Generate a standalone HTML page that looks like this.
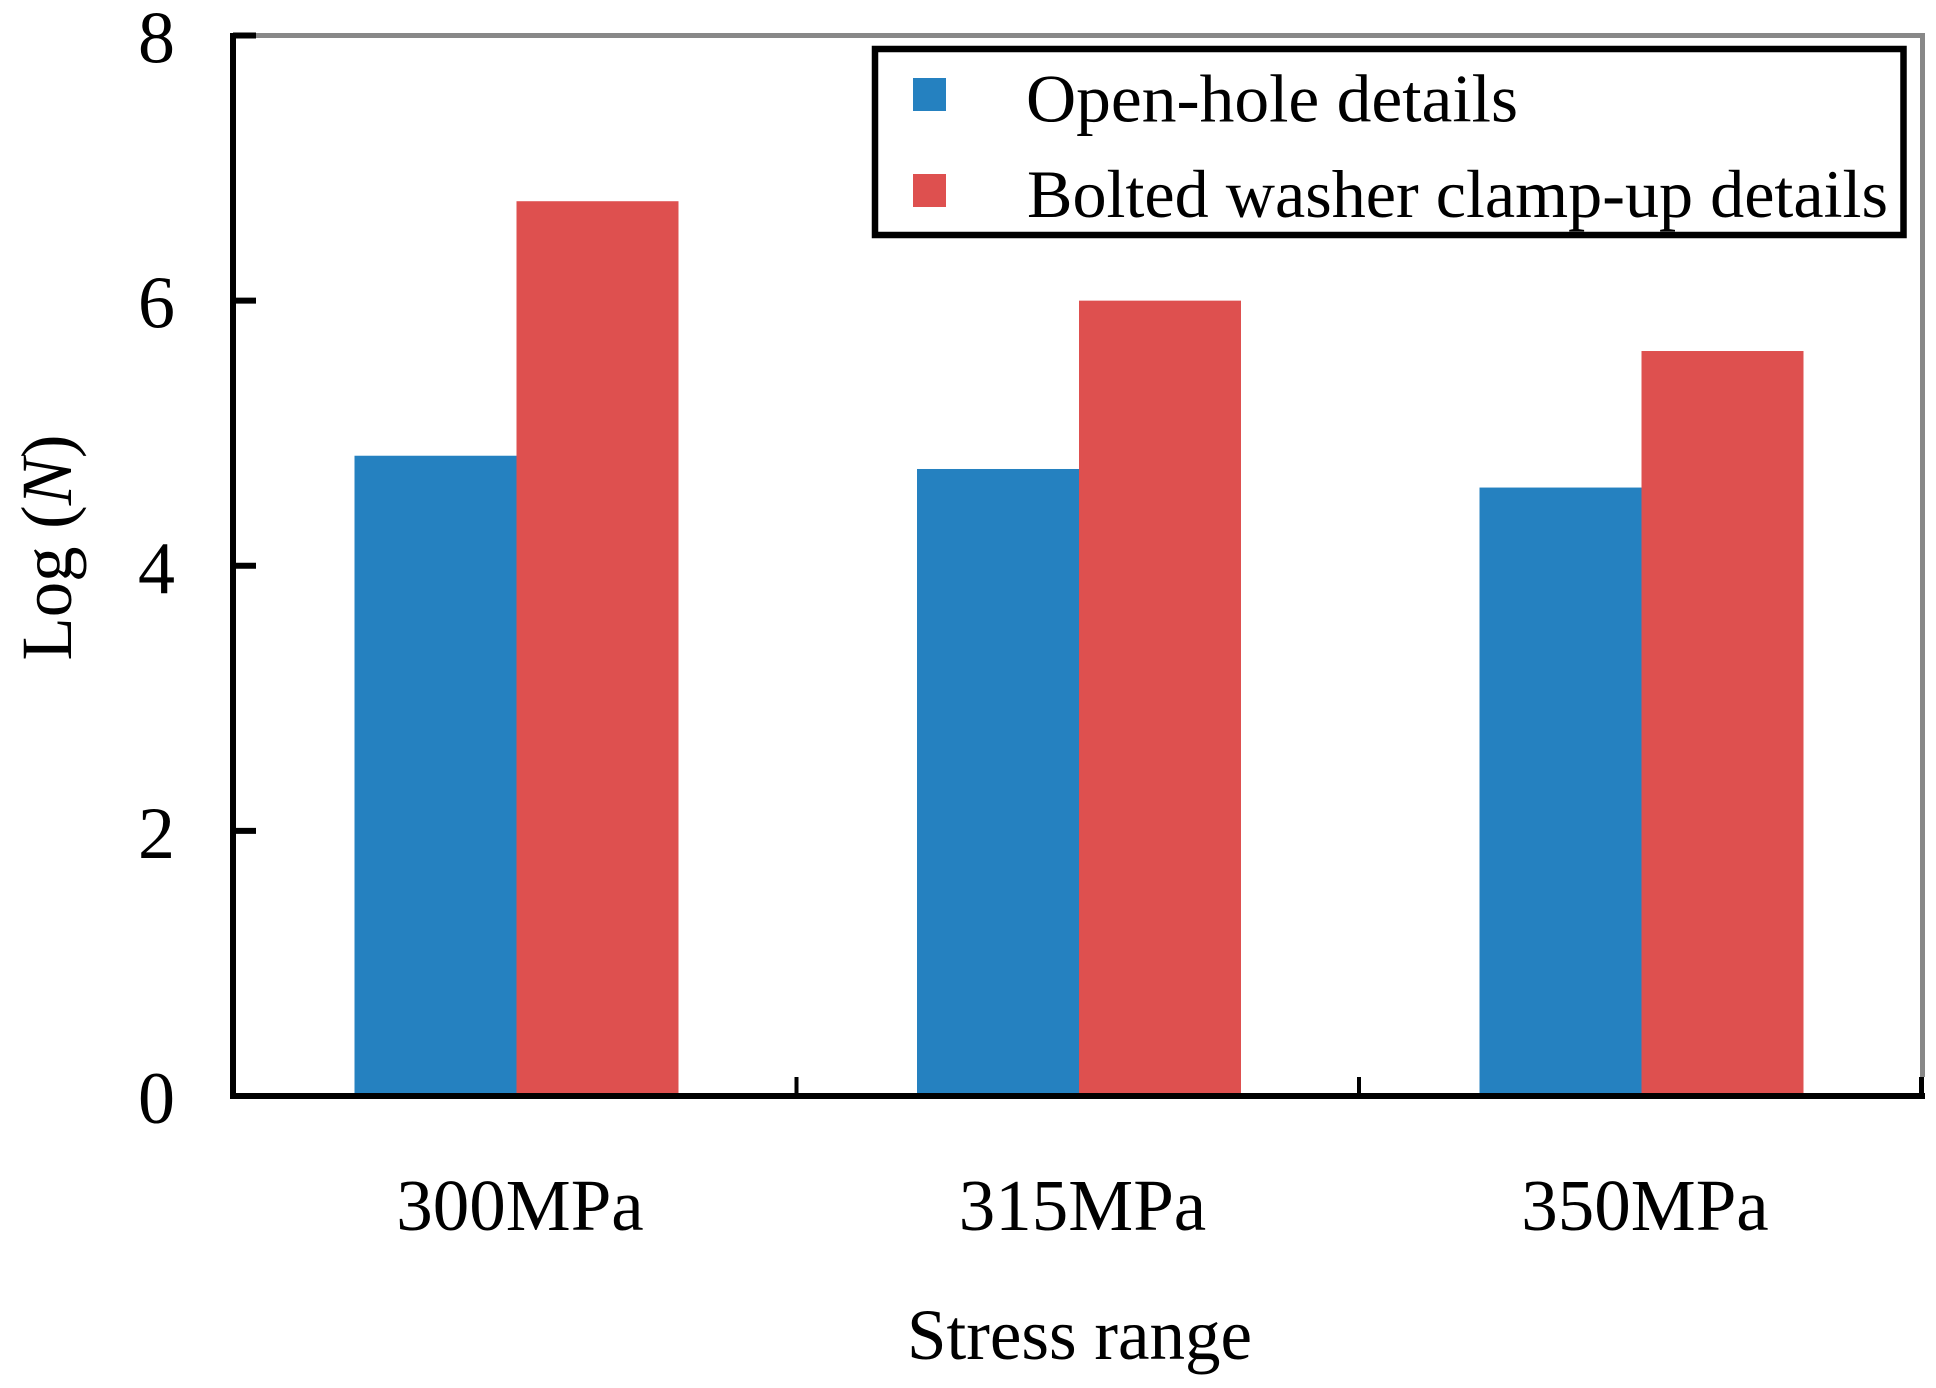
<!DOCTYPE html>
<html lang="en">
<head>
<meta charset="utf-8">
<title>Log (N) by stress range</title>
<style>
  html, body { margin: 0; padding: 0; background: #fff; }
  svg { display: block; }
  text { font-family: "Liberation Serif", "Times New Roman", serif; fill: #000; }
</style>
</head>
<body>
<svg id="chart" xmlns="http://www.w3.org/2000/svg" width="1936" height="1388" viewBox="0 0 1936 1388">
  <rect x="0" y="0" width="1936" height="1388" fill="#ffffff"/>
  <g id="bars"></g>
  <path d="M256 35.5H1922.5V1077" fill="none" stroke="#888888" stroke-width="5"/>
  <g id="ticks"></g>
  <path d="M233 33V1099" fill="none" stroke="#000" stroke-width="6"/>
  <path d="M230 1096H1925" fill="none" stroke="#000" stroke-width="6"/>
  <g id="labels"></g>
  <text transform="translate(71 660.5) rotate(-90)" font-size="72" textLength="226" lengthAdjust="spacingAndGlyphs">Log (<tspan font-style="italic">N</tspan>)</text>
  <text x="907" y="1359" font-size="72" textLength="345" lengthAdjust="spacingAndGlyphs">Stress range</text>
  <g>
    <rect x="875" y="49" width="1028.5" height="186" fill="#ffffff" stroke="#000" stroke-width="6.5"/>
    <rect x="913" y="78" width="33" height="33" fill="#2581c0"/>
    <text x="1026" y="121.5" font-size="68" textLength="492" lengthAdjust="spacingAndGlyphs">Open-hole details</text>
    <rect x="913" y="174" width="33" height="33" fill="#de504f"/>
    <text x="1027" y="217" font-size="68" textLength="861" lengthAdjust="spacingAndGlyphs">Bolted washer clamp-up details</text>
  </g>
</svg>
<script>
const categories = ['300MPa', '315MPa', '350MPa'];
const openHoleValues = [4.83, 4.73, 4.59];
const boltedValues = [6.75, 6.0, 5.62];
const yTickLabels = [0, 2, 4, 6, 8];

const SVG_NS = 'http://www.w3.org/2000/svg';
const barsGroup = document.getElementById('bars');
const ticksGroup = document.getElementById('ticks');
const labelsGroup = document.getElementById('labels');

function yScale(value) {
  return 1096 - value * 132.56;
}
function xScale(index) {
  return 516.5 + index * 562.5;
}
const BAR_WIDTH = 162;

function makeBar(x, value, color, name) {
  const el = document.createElementNS(SVG_NS, 'rect');
  el.setAttribute('x', x);
  el.setAttribute('y', yScale(value));
  el.setAttribute('width', BAR_WIDTH);
  el.setAttribute('height', yScale(0) - yScale(value));
  el.setAttribute('fill', color);
  
  
  barsGroup.appendChild(el);
}

function makeLabel(x, y, content, size, name) {
  const el = document.createElementNS(SVG_NS, 'text');
  el.setAttribute('x', x);
  el.setAttribute('y', y);
  el.setAttribute('font-size', size);
  el.setAttribute('text-anchor', 'middle');
  
  
  el.textContent = content;
  labelsGroup.appendChild(el);
}

function makeTick(x1, y1, x2, y2, width, name) {
  const el = document.createElementNS(SVG_NS, 'line');
  el.setAttribute('x1', x1);
  el.setAttribute('y1', y1);
  el.setAttribute('x2', x2);
  el.setAttribute('y2', y2);
  el.setAttribute('stroke', '#000');
  el.setAttribute('stroke-width', width);
  
  
  ticksGroup.appendChild(el);
}

categories.forEach(function (category, i) {
  const center = xScale(i);
  makeBar(center - BAR_WIDTH, openHoleValues[i], '#2581c0', 'bar-open-hole-' + category);
  makeBar(center, boltedValues[i], '#de504f', 'bar-bolted-' + category);
  makeLabel(center + 3.5, 1230, category, 73, 'x-tick-label-' + category);
  makeTick(center + 280, 1077, center + 280, 1096, i === categories.length - 1 ? 5 : 4, 'x-tick-' + category);
});

yTickLabels.forEach(function (tick) {
  makeTick(233, yScale(tick), 256, yScale(tick), 6, 'y-tick-' + tick);
  makeLabel(156.5, yScale(tick) + 27, String(tick), 74, 'y-tick-label-' + tick);
});
</script>
</body>
</html>
